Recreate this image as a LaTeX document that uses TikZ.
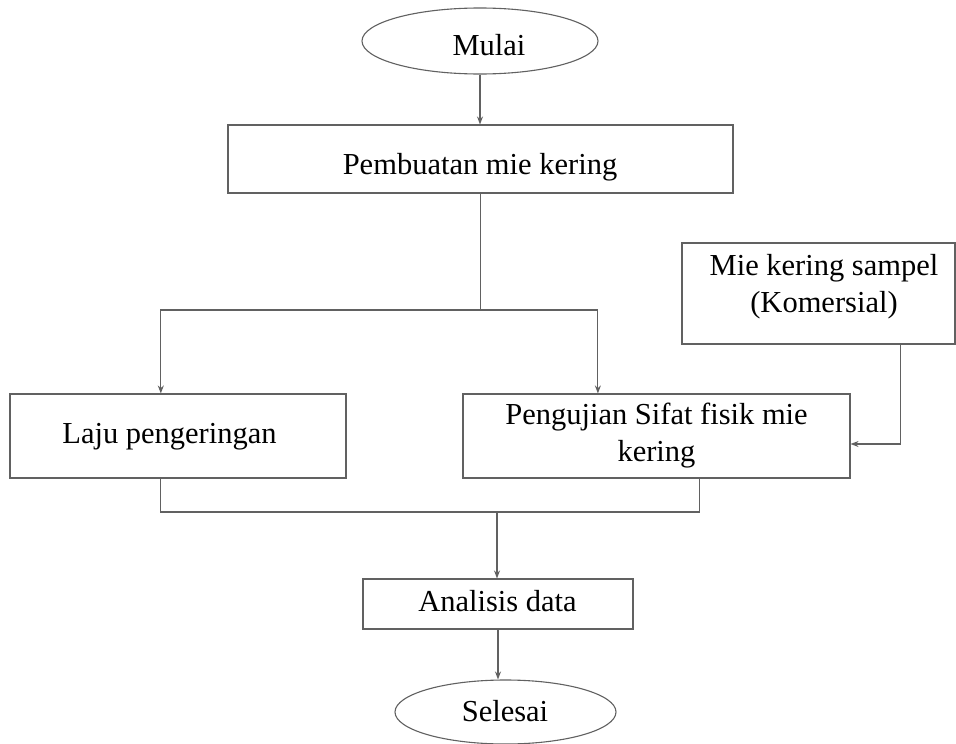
\documentclass[tikz,border=0pt]{standalone}
\usepackage{fontspec}
\setmainfont{Liberation Serif}
\usetikzlibrary{arrows.meta,calc,shapes.geometric}
\definecolor{linecol}{gray}{0.38}
\tikzset{
  box/.style={draw=linecol, line width=1.1pt, rectangle, inner sep=0pt},
  oval/.style={draw=linecol, line width=1.1pt, ellipse, inner sep=0pt},
  txt/.style={font=\fontsize{30.5}{37}\selectfont, inner sep=0pt, text=black},
  conn/.style={draw=linecol, line width=1.1pt},
  arr/.style={conn, -{Stealth[length=8pt,width=6pt]}}
}
\begin{document}
\begin{tikzpicture}[x=1pt,y=-1pt]
\useasboundingbox (0,0) rectangle (956,744);
\fill[white] (0,0) rectangle (956,744);

% shapes
\node[oval, minimum width=236pt, minimum height=66pt] (mulai) at (480,41) {};
\node[box, minimum width=505pt, minimum height=68pt] (pemb) at (480.5,159) {};
\node[box, minimum width=273pt, minimum height=101pt] (mie) at (818.5,293.5) {};
\node[box, minimum width=336pt, minimum height=84pt] (laju) at (178,436) {};
\node[box, minimum width=387pt, minimum height=84pt] (peng) at (656.5,436) {};
\node[box, minimum width=270pt, minimum height=50pt] (anal) at (498,604) {};
\node[oval, minimum width=221pt, minimum height=64pt] (sel) at (505.5,712) {};

% texts
\node[txt, anchor=base] (tmulai) at (489,55) {Mulai};
\node[txt, anchor=base] (tpemb) at (480,174) {Pembuatan mie kering};
\node[txt, align=center] (tmie) at (824,286.5) {Mie kering sampel\\(Komersial)};
\node[txt, anchor=base] (tlaju) at (169.5,443) {Laju pengeringan};
\node[txt, align=center] (tpeng) at (656.5,436) {Pengujian Sifat fisik mie\\kering};
\node[txt, anchor=base] (tanal) at (497.5,611) {Analisis data};
\node[txt, anchor=base] (tsel) at (505,721) {Selesai};

% connectors
\draw[arr] (mulai.south) -- (mulai.south |- pemb.north);
\coordinate (split) at (480.5,310);
\draw[conn] (pemb.south) -- (split);
\coordinate (lajuin) at ($(laju.north west)!0.449!(laju.north east)$);
\coordinate (pengin) at ($(peng.north west)!0.349!(peng.north east)$);
\draw[arr] (split) -| (lajuin);
\draw[arr] (split) -| (pengin);
\coordinate (mieout) at ($(mie.south west)!0.7985!(mie.south east)$);
\draw[arr] (mieout) |- ([yshift=-8pt]peng.east);
\coordinate (lajuout) at ($(laju.south west)!0.449!(laju.south east)$);
\coordinate (pengout) at ($(peng.south west)!0.61!(peng.south east)$);
\coordinate (join) at (497,512);
\draw[conn] (lajuout) -- (lajuout |- join) -- (pengout |- join) -- (pengout);
\draw[arr] (join) -- (join |- anal.north);
\draw[arr] (anal.south) -- (anal.south |- sel.north);
\end{tikzpicture}
\end{document}
